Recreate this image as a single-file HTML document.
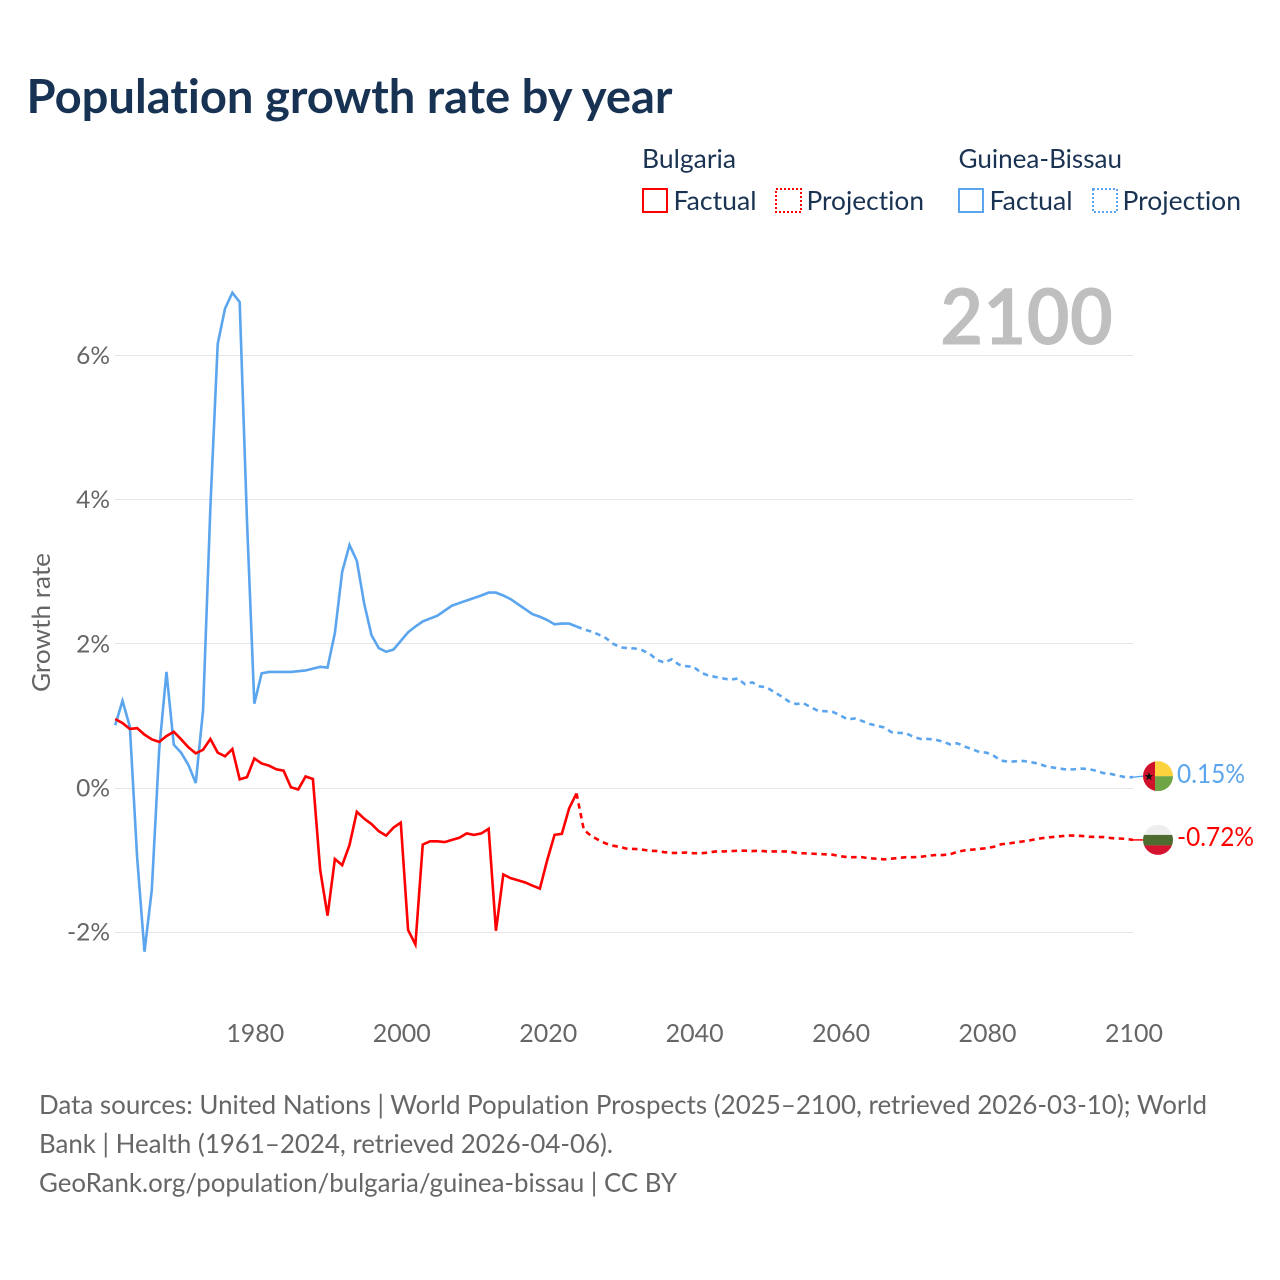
<!DOCTYPE html>
<html lang="en">
<head>
<meta charset="utf-8">
<title>Population growth rate by year</title>
<style>
html,body{margin:0;padding:0;background:#fff;width:1280px;height:1280px;overflow:hidden}
svg{display:block}
text{font-family:"Lato","Carlito","Liberation Sans",sans-serif;font-variant-ligatures:none}
</style>
</head>
<body>
<svg id="chart" xmlns="http://www.w3.org/2000/svg" width="1280" height="1280" viewBox="0 0 1280 1280">
  <defs>
    <clipPath id="flag-clip"><circle cx="0" cy="0" r="15"/></clipPath>
  </defs>
  <rect x="0" y="0" width="1280" height="1280" fill="#fff"/>
  <text x="26.5" y="113" font-size="47" font-weight="700" fill="#173253" textLength="646" lengthAdjust="spacingAndGlyphs">Population growth rate by year</text>

  <g font-size="26" fill="#1a3352">
    <text x="642" y="168" textLength="94" lengthAdjust="spacingAndGlyphs">Bulgaria</text>
    <rect x="643" y="189" width="24" height="23" fill="none" stroke="#ff0000" stroke-width="2"/>
    <text x="673.5" y="210" textLength="83" lengthAdjust="spacingAndGlyphs">Factual</text>
    <rect x="776" y="189" width="25" height="23" fill="none" stroke="#ff0000" stroke-width="2" stroke-dasharray="2 2"/>
    <text x="806.5" y="210" textLength="117.5" lengthAdjust="spacingAndGlyphs">Projection</text>
    <text x="958.5" y="168" textLength="163.5" lengthAdjust="spacingAndGlyphs">Guinea-Bissau</text>
    <rect x="959" y="189" width="24" height="23" fill="none" stroke="#5aa5ee" stroke-width="2"/>
    <text x="989.5" y="210" textLength="83" lengthAdjust="spacingAndGlyphs">Factual</text>
    <rect x="1093" y="189" width="24" height="23" fill="none" stroke="#5aa5ee" stroke-width="2" stroke-dasharray="2 2"/>
    <text x="1122.5" y="210" textLength="118.5" lengthAdjust="spacingAndGlyphs">Projection</text>
  </g>

  <g id="grid"></g>
  <g id="y-axis"></g>
  <g id="x-axis"></g>

  <text x="940" y="344.5" font-size="78" font-weight="700" fill="#bfbfbf" textLength="173" lengthAdjust="spacingAndGlyphs">2100</text>
  <text transform="translate(50,692) rotate(-90)" font-size="25" fill="#666666" textLength="139" lengthAdjust="spacingAndGlyphs">Growth rate</text>

  <g id="series"></g>

  <g id="flag-guinea-bissau">
    <g clip-path="url(#flag-clip)">
      <rect x="-15" y="-15" width="12" height="30" fill="#d0112b"/>
      <rect x="-3" y="-15" width="18" height="15" fill="#fcd33f"/>
      <rect x="-3" y="0" width="18" height="15" fill="#6fa544"/>
      <polygon points="-9,-4 -7.8,-1 -4.7,-1 -7.2,1 -6.3,4 -9,2.2 -11.7,4 -10.8,1 -13.3,-1 -10.2,-1" fill="#111"/>
    </g>
  </g>
  <g id="flag-bulgaria">
    <g clip-path="url(#flag-clip)">
      <rect x="-15" y="-16" width="30" height="11" fill="#eeeeee"/>
      <rect x="-15" y="-5" width="30" height="10.5" fill="#4e6b30"/>
      <rect x="-15" y="5.5" width="30" height="10.5" fill="#d6132f"/>
    </g>
  </g>
  <text id="label-guinea-bissau" x="1177" font-size="26" fill="#5aa5ee" textLength="68" lengthAdjust="spacingAndGlyphs"></text>
  <text id="label-bulgaria" x="1177" font-size="26" fill="#ff0000" textLength="77" lengthAdjust="spacingAndGlyphs"></text>

  <g font-size="26" fill="#666666">
    <text x="39" y="1114" textLength="1168" lengthAdjust="spacingAndGlyphs">Data sources: United Nations | World Population Prospects (2025–2100, retrieved 2026-03-10); World</text>
    <text x="39" y="1153" textLength="574" lengthAdjust="spacingAndGlyphs">Bank | Health (1961–2024, retrieved 2026-04-06).</text>
    <text x="39" y="1192" textLength="638" lengthAdjust="spacingAndGlyphs">GeoRank.org/population/bulgaria/guinea-bissau | CC BY</text>
  </g>
</svg>

<script>
const factualStartYear = 1961;
const projectionStartYear = 2024;
const xTickYears = [1980, 2000, 2020, 2040, 2060, 2080, 2100];
const yTickValues = [6, 4, 2, 0, -2];
const yTickLabels = ["6%", "4%", "2%", "0%", "-2%"];
const guineaEndLabel = "0.15%";
const bulgariaEndLabel = "-0.72%";

const guineaFactual = [
  0.87, 1.21, 0.85, -0.97, -2.27, -1.41, 0.52, 1.61, 0.6, 0.49,
  0.32, 0.07, 1.08, 3.9, 6.16, 6.65, 6.87, 6.74, 3.7, 1.17,
  1.59, 1.61, 1.61, 1.61, 1.61, 1.62, 1.63, 1.655, 1.68, 1.67,
  2.15, 3.0, 3.37, 3.15, 2.56, 2.12, 1.94, 1.89, 1.92, 2.04,
  2.16, 2.24, 2.31, 2.35, 2.39, 2.46, 2.53, 2.565, 2.6, 2.635,
  2.67, 2.71, 2.71, 2.67, 2.62, 2.55, 2.48, 2.41, 2.375, 2.33,
  2.27, 2.28, 2.28, 2.24
];
const guineaProjection = [
  2.24, 2.2, 2.17, 2.13, 2.08, 2.0, 1.95, 1.94, 1.935, 1.91, 1.86,
  1.775, 1.74, 1.785, 1.71, 1.69, 1.68, 1.6, 1.56, 1.54, 1.52,
  1.5, 1.52, 1.44, 1.465, 1.41, 1.395, 1.33, 1.27, 1.2, 1.165,
  1.175, 1.12, 1.07, 1.065, 1.055, 1.01, 0.95, 0.965, 0.93, 0.89,
  0.865, 0.84, 0.775, 0.765, 0.76, 0.71, 0.68, 0.68, 0.67, 0.645,
  0.605, 0.62, 0.575, 0.54, 0.5, 0.49, 0.445, 0.38, 0.365, 0.37,
  0.375, 0.36, 0.34, 0.305, 0.285, 0.27, 0.255, 0.26, 0.27, 0.26,
  0.24, 0.205, 0.195, 0.17, 0.15, 0.15
];
const bulgariaFactual = [
  0.957, 0.9, 0.82, 0.83, 0.74, 0.675, 0.64, 0.72, 0.78, 0.675,
  0.565, 0.48, 0.53, 0.68, 0.49, 0.44, 0.54, 0.12, 0.15, 0.41,
  0.34, 0.31, 0.26, 0.24, 0.01, -0.02, 0.16, 0.125, -1.14, -1.77,
  -0.985, -1.07, -0.79, -0.33, -0.425, -0.5, -0.6, -0.66, -0.55, -0.48,
  -1.97, -2.17, -0.785, -0.74, -0.74, -0.75, -0.72, -0.69, -0.63, -0.65,
  -0.63, -0.565, -1.98, -1.2, -1.25, -1.28, -1.31, -1.355, -1.395, -1.0,
  -0.65, -0.635, -0.28, -0.075
];
const bulgariaProjection = [
  -0.075, -0.58, -0.665, -0.72, -0.77, -0.8, -0.82, -0.845, -0.845, -0.855, -0.87,
  -0.875, -0.89, -0.9, -0.9, -0.895, -0.905, -0.905, -0.895, -0.88, -0.88,
  -0.875, -0.87, -0.87, -0.875, -0.87, -0.88, -0.88, -0.88, -0.88, -0.9,
  -0.905, -0.91, -0.915, -0.92, -0.925, -0.945, -0.96, -0.96, -0.96, -0.975,
  -0.98, -0.99, -0.98, -0.97, -0.96, -0.96, -0.955, -0.94, -0.93, -0.93,
  -0.92, -0.885, -0.865, -0.855, -0.845, -0.835, -0.815, -0.78, -0.77, -0.755,
  -0.74, -0.725, -0.705, -0.69, -0.68, -0.67, -0.66, -0.66, -0.665, -0.675,
  -0.68, -0.68, -0.695, -0.7, -0.705, -0.72
];

const SVG_NS = "http://www.w3.org/2000/svg";
const xScale = function (year) { return 115.2 + (year - 1961) * (1133 - 115.2) / 139; };
const yScale = function (value) { return 788 - value * 72.1; };

function linePath(values, startYear) {
  return values.map(function (v, i) {
    return (i ? "L" : "M") + xScale(startYear + i).toFixed(2) + " " + yScale(v).toFixed(2);
  }).join(" ");
}

const gridGroup = document.getElementById("grid");
const yAxisGroup = document.getElementById("y-axis");
yTickValues.forEach(function (v, i) {
  const gy = Math.floor(yScale(v)) + 0.5;
  const line = document.createElementNS(SVG_NS, "line");
  
  
  line.setAttribute("x1", 115);
  line.setAttribute("x2", 1133);
  line.setAttribute("y1", gy);
  line.setAttribute("y2", gy);
  line.setAttribute("stroke", "#e6e6e6");
  line.setAttribute("stroke-width", "1");
  gridGroup.appendChild(line);

  const label = document.createElementNS(SVG_NS, "text");
  
  
  label.setAttribute("x", 110);
  label.setAttribute("y", yScale(v) + 8.5);
  label.setAttribute("text-anchor", "end");
  label.setAttribute("font-size", "24.5");
  label.setAttribute("fill", "#666666");
  label.textContent = yTickLabels[i];
  yAxisGroup.appendChild(label);
});

const xAxisGroup = document.getElementById("x-axis");
xTickYears.forEach(function (year) {
  const label = document.createElementNS(SVG_NS, "text");
  
  
  label.setAttribute("x", xScale(year) + 1);
  label.setAttribute("y", 1042);
  label.setAttribute("text-anchor", "middle");
  label.setAttribute("font-size", "25");
  label.setAttribute("fill", "#666666");
  label.setAttribute("textLength", "58");
  label.setAttribute("lengthAdjust", "spacingAndGlyphs");
  label.textContent = String(year);
  xAxisGroup.appendChild(label);
});

const seriesGroup = document.getElementById("series");

const guineaFactualLine = document.createElementNS(SVG_NS, "path");


guineaFactualLine.setAttribute("d", linePath(guineaFactual, factualStartYear));
guineaFactualLine.setAttribute("fill", "none");
guineaFactualLine.setAttribute("stroke", "#5aa5ee");
guineaFactualLine.setAttribute("stroke-width", "2.6");
guineaFactualLine.setAttribute("stroke-linejoin", "miter");
seriesGroup.appendChild(guineaFactualLine);

const guineaProjectionLine = document.createElementNS(SVG_NS, "path");


guineaProjectionLine.setAttribute("d", linePath(guineaProjection, projectionStartYear));
guineaProjectionLine.setAttribute("fill", "none");
guineaProjectionLine.setAttribute("stroke", "#5aa5ee");
guineaProjectionLine.setAttribute("stroke-width", "2.6");
guineaProjectionLine.setAttribute("stroke-dasharray", "5.5 4.5");
seriesGroup.appendChild(guineaProjectionLine);

const bulgariaFactualLine = document.createElementNS(SVG_NS, "path");


bulgariaFactualLine.setAttribute("d", linePath(bulgariaFactual, factualStartYear));
bulgariaFactualLine.setAttribute("fill", "none");
bulgariaFactualLine.setAttribute("stroke", "#ff0000");
bulgariaFactualLine.setAttribute("stroke-width", "2.6");
seriesGroup.appendChild(bulgariaFactualLine);

const bulgariaProjectionLine = document.createElementNS(SVG_NS, "path");


bulgariaProjectionLine.setAttribute("d", linePath(bulgariaProjection, projectionStartYear));
bulgariaProjectionLine.setAttribute("fill", "none");
bulgariaProjectionLine.setAttribute("stroke", "#ff0000");
bulgariaProjectionLine.setAttribute("stroke-width", "2.6");
bulgariaProjectionLine.setAttribute("stroke-dasharray", "5.5 4.5");
seriesGroup.appendChild(bulgariaProjectionLine);

const guineaEndY = yScale(guineaProjection[guineaProjection.length - 1]);
const bulgariaEndY = yScale(bulgariaProjection[bulgariaProjection.length - 1]);

const guineaConnector = document.createElementNS(SVG_NS, "line");


guineaConnector.setAttribute("x1", xScale(2100));
guineaConnector.setAttribute("x2", 1143);
guineaConnector.setAttribute("y1", guineaEndY);
guineaConnector.setAttribute("y2", guineaEndY - 1);
guineaConnector.setAttribute("stroke", "#5aa5ee");
guineaConnector.setAttribute("stroke-width", "1.5");
seriesGroup.appendChild(guineaConnector);

const bulgariaConnector = document.createElementNS(SVG_NS, "line");


bulgariaConnector.setAttribute("x1", xScale(2100));
bulgariaConnector.setAttribute("x2", 1143);
bulgariaConnector.setAttribute("y1", bulgariaEndY);
bulgariaConnector.setAttribute("y2", bulgariaEndY);
bulgariaConnector.setAttribute("stroke", "#ff0000");
bulgariaConnector.setAttribute("stroke-width", "1.5");
seriesGroup.appendChild(bulgariaConnector);

document.getElementById("flag-guinea-bissau").setAttribute("transform", "translate(1158," + (guineaEndY - 1) + ")");
document.getElementById("flag-bulgaria").setAttribute("transform", "translate(1158," + bulgariaEndY + ")");

const guineaLabel = document.getElementById("label-guinea-bissau");
guineaLabel.setAttribute("y", guineaEndY + 6);
guineaLabel.textContent = guineaEndLabel;

const bulgariaLabel = document.getElementById("label-bulgaria");
bulgariaLabel.setAttribute("y", bulgariaEndY + 6);
bulgariaLabel.textContent = bulgariaEndLabel;
</script>
</body>
</html>
